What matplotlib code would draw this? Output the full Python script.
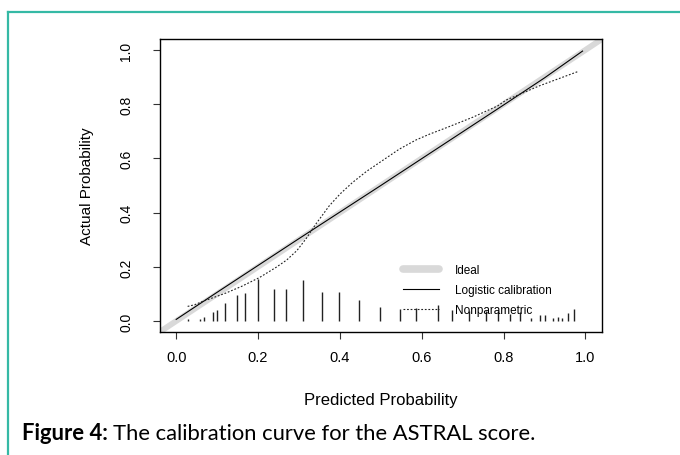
import matplotlib.pyplot as plt
from matplotlib.lines import Line2D

# spike histogram of predicted probabilities (bottom of the plot)
spike_x = [0.030, 0.058, 0.069, 0.089, 0.099, 0.120, 0.148, 0.168, 0.200, 0.240,
           0.269, 0.309, 0.357, 0.397, 0.447, 0.498, 0.546, 0.585, 0.639, 0.675,
           0.715, 0.756, 0.786, 0.816, 0.839, 0.866, 0.888, 0.900, 0.921, 0.932,
           0.943, 0.957, 0.972]
spike_h = [0.008, 0.006, 0.014, 0.035, 0.040, 0.065, 0.095, 0.102, 0.155, 0.117,
           0.119, 0.150, 0.108, 0.108, 0.077, 0.051, 0.046, 0.048, 0.058, 0.042,
           0.037, 0.037, 0.036, 0.026, 0.034, 0.012, 0.024, 0.022, 0.012, 0.014,
           0.012, 0.028, 0.044]

# logistic calibration curve
logit_x = [0.000, 0.100, 0.200, 0.300, 0.400, 0.500, 0.600, 0.700, 0.800, 0.900, 0.993]
logit_y = [0.006, 0.106, 0.205, 0.304, 0.402, 0.500, 0.599, 0.698, 0.797, 0.897, 0.996]

# nonparametric (loess) calibration curve
np_x = [0.028, 0.045, 0.064, 0.090, 0.121, 0.160, 0.203, 0.244, 0.270, 0.295, 0.318,
        0.340, 0.374, 0.400, 0.430, 0.465, 0.504, 0.545, 0.586, 0.620, 0.660,
        0.725, 0.786, 0.806, 0.888, 0.981]
np_y = [0.054, 0.060, 0.072, 0.086, 0.103, 0.128, 0.160, 0.198, 0.225, 0.260, 0.305,
        0.355, 0.425, 0.468, 0.510, 0.552, 0.592, 0.634, 0.668, 0.690, 0.713,
        0.752, 0.794, 0.815, 0.868, 0.920]

ticks = [0.0, 0.2, 0.4, 0.6, 0.8, 1.0]
tick_labels = ["0.0", "0.2", "0.4", "0.6", "0.8", "1.0"]
legend_labels = ["Ideal", "Logistic calibration", "Nonparametric"]

plt.rcParams["font.family"] = ["Liberation Sans", "DejaVu Sans"]

fig = plt.figure(figsize=(6.8, 4.56), dpi=100)

# teal frame of the journal figure box
fig.add_artist(Line2D([0.012, 1.0], [0.972, 0.972], color="#35b9a5", lw=1.6))
fig.add_artist(Line2D([0.012, 0.012], [0.0, 0.972], color="#35b9a5", lw=1.6))

ax = fig.add_axes([0.235, 0.270, 0.650, 0.642])

ax.axline((0, 0), slope=1, color="#d9d9d9", lw=4.2, solid_capstyle="butt", zorder=1)
ax.plot(logit_x, logit_y, color="black", lw=0.8, zorder=3)
ax.plot(np_x, np_y, color="#222222", lw=0.8, ls=(0, (1.6, 1.6)), zorder=3)
ax.vlines(spike_x, 0, spike_h, color="#222222", lw=1.0, zorder=2)

ax.set_xlim(-0.04, 1.04)
ax.set_ylim(-0.04, 1.04)
ax.set_xticks(ticks, tick_labels, fontsize=10.5)
ax.set_yticks(ticks, tick_labels, fontsize=10, rotation=90, va="center")
ax.tick_params(direction="out", length=5, width=0.8, color="#333333")
ax.tick_params(axis="x", pad=8)
ax.tick_params(axis="y", pad=14)
for s in ax.spines.values():
    s.set_linewidth(1.0)

ax.set_xlabel("Predicted Probability", fontsize=12, labelpad=20)
ax.set_ylabel("Actual Probability", fontsize=11, labelpad=18)

handles = [
    Line2D([], [], color="#d9d9d9", lw=5.5, solid_capstyle="round"),
    Line2D([], [], color="black", lw=0.8),
    Line2D([], [], color="#222222", lw=0.8, ls=(0, (1.6, 1.6))),
]
ax.legend(handles, legend_labels, loc="upper left", bbox_to_anchor=(0.55, 0.232),
          frameon=False, fontsize=8.5, handlelength=3.1, handletextpad=1.3,
          labelspacing=0.7, borderpad=0, borderaxespad=0)

t1 = fig.text(0.032, 0.036, "Figure 4:", fontsize=15.8, fontweight="bold", family="Lato")
ax.annotate("The calibration curve for the ASTRAL score.", xy=(1, 0), xycoords=t1,
            xytext=(4, 0), textcoords="offset points", fontsize=15.8, family="Lato",
            va="bottom", annotation_clip=False)

fig.savefig("out.png", dpi=100)
